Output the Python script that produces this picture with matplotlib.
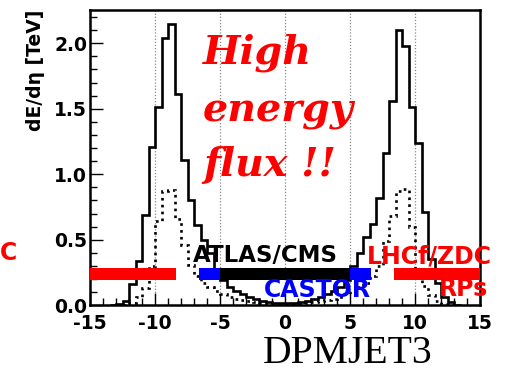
import numpy as np
import matplotlib
matplotlib.use("Agg")
import matplotlib.pyplot as plt
from matplotlib.ticker import MultipleLocator

plt.rcParams['axes.unicode_minus'] = False

# ---- data ----
solid_edges = np.arange(-13.5, 13.51, 0.5)
solid_vals = [0.005, 0.012, 0.035, 0.16, 0.34, 0.69, 1.21, 1.51, 2.04, 2.15, 1.61, 1.11,
              0.80, 0.61, 0.50, 0.40, 0.28, 0.19, 0.14, 0.11, 0.085, 0.066, 0.048, 0.035,
              0.025, 0.018, 0.015,
              0.015, 0.018, 0.025, 0.035, 0.048, 0.066, 0.085, 0.11, 0.14, 0.19, 0.30,
              0.40, 0.52, 0.62, 0.82, 1.165, 1.56, 2.10, 1.98, 1.51, 1.24, 0.71, 0.35,
              0.17, 0.066, 0.028, 0.005]

dotted_edges = np.arange(-13.0, 13.01, 0.5)
dotted_vals = [0.0, 0.005, 0.02, 0.06, 0.13, 0.30, 0.64, 0.87, 0.88, 0.66, 0.46, 0.31,
               0.22, 0.17, 0.14, 0.11, 0.085, 0.066, 0.05, 0.04, 0.03, 0.022, 0.016,
               0.012, 0.009, 0.008,
               0.008, 0.009, 0.012, 0.016, 0.022, 0.03, 0.04, 0.05, 0.066, 0.085, 0.11,
               0.14, 0.17, 0.22, 0.30, 0.49, 0.68, 0.87, 0.89, 0.60, 0.28, 0.15, 0.08,
               0.03, 0.01, 0.0]

# detector acceptance bars (eta ranges)
bar_ranges = [(-15.0, -8.4), (-6.6, -5.0), (-5.0, 5.0), (5.0, 6.6), (8.4, 15.0)]
bar_colors = ['#ff0000', '#0000ff', '#000000', '#0000ff', '#ff0000']
bar_y = (0.19, 0.285)

grid_x = [-10, -5, 0, 5, 10]
xticks = [-15, -10, -5, 0, 5, 10, 15]
yticks = [0.0, 0.5, 1.0, 1.5, 2.0]

W, H = 510, 372
fig = plt.figure(figsize=(W / 100, H / 100), dpi=100)
ax = fig.add_axes([90 / W, 1 - 305.3 / H, 390 / W, 295.3 / H])
ax.set_xlim(-15, 15)
ax.set_ylim(0, 2.254)

for gx in grid_x:
    ax.axvline(gx, color='#888888', lw=0.9, ls=(0, (1, 1.5)), zorder=1)

ax.stairs(solid_vals, solid_edges, baseline=0, color='black', lw=1.9, zorder=3)
ax.stairs(dotted_vals, dotted_edges, baseline=0, color='black', lw=1.9,
          ls=(0, (1, 1.6)), zorder=3)

for (x0, x1), c in zip(bar_ranges, bar_colors):
    ax.fill_between([x0, x1], bar_y[0], bar_y[1], color=c, lw=0, zorder=4)

for s in ax.spines.values():
    s.set_linewidth(1.8)

ax.set_xticks(xticks)
ax.set_xticklabels([str(v) for v in xticks])
ax.set_yticks(yticks)
ax.set_yticklabels([f"{v:.1f}" for v in yticks])
ax.xaxis.set_minor_locator(MultipleLocator(1))
ax.yaxis.set_minor_locator(MultipleLocator(0.1))
ax.tick_params(which='both', direction='in', top=False, right=False, width=1.0)
ax.tick_params(which='major', length=9)
ax.tick_params(which='minor', length=5)
ax.tick_params(axis='x', which='major', pad=6)
ax.tick_params(axis='y', which='major', pad=2)
for lab in ax.get_xticklabels() + ax.get_yticklabels():
    lab.set_fontfamily('DejaVu Sans')
    lab.set_fontweight('bold')
    lab.set_fontsize(13.5)

fig.text(36 / W, 1 - 10 / H, 'dE/dη [TeV]', rotation=90, ha='center', va='top',
         fontsize=13.5, fontweight='bold', family='DejaVu Sans')

def ftext(px, py, s, **kw):
    return fig.text(px / W, 1 - py / H, s, va='baseline', zorder=6, **kw)

hi = dict(color='#ff0000', fontsize=28.5, family='DejaVu Serif', fontweight='bold',
          style='italic', ha='left')
ftext(203, 63, 'High', **hi)
ftext(203, 121.5, 'energy', **hi)
ftext(203, 176.5, 'flux !!', **hi)

lab = dict(family='DejaVu Sans', fontweight='bold')
ftext(265.5, 262, 'ATLAS/CMS', ha='center', color='black', fontsize=16.5, **lab)
ftext(264, 297, 'CASTOR', ha='left', color='#0000ff', fontsize=17, **lab)
ftext(367, 263, 'LHCf/ZDC', ha='left', color='#ff0000', fontsize=17, **lab)
ftext(0, 260, 'C', ha='left', color='#ff0000', fontsize=17, **lab)
ftext(439, 296, 'RPs', ha='left', color='#ff0000', fontsize=17, **lab)

ftext(347.5, 363, 'DPMJET3', ha='center', color='black', fontsize=28.5,
      family='Liberation Serif')

fig.savefig('out.png', dpi=100)
